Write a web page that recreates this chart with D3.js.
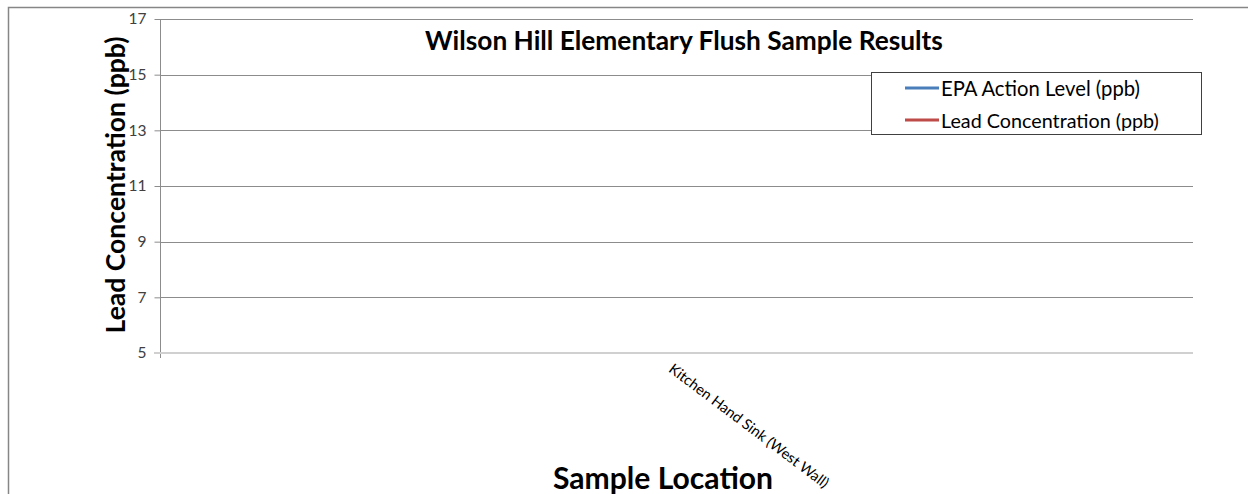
<!DOCTYPE html>
<html><head><meta charset="utf-8">
<script src="https://cdn.jsdelivr.net/npm/d3@7"></script>
<style>body{margin:0;background:#fff;} svg{display:block;font-family:Lato,"Open Sans",sans-serif;}</style>
</head><body>
<svg id="c" width="1248" height="494"></svg>
<script>
const categories = ["Kitchen Hand Sink (West Wall)"];
const epaActionLevel = [15];
const leadConcentration = [2];
const yTicks = [5, 7, 9, 11, 13, 15, 17];
const seriesNames = ["EPA Action Level (ppb)", "Lead Concentration (ppb)"];
const seriesColors = ["#4a7ebb", "#be4b48"];
const titleText = "Wilson Hill Elementary Flush Sample Results";
const xTitle = "Sample Location";
const yTitle = "Lead Concentration (ppb)";

const svg = d3.select("#c");
const W = 1248, H = 494;
const L = 160, R = 1193, T = 19, B = 353;

function fitText(sel, target) {
  const len = sel.node().getComputedTextLength();
  const fs = parseFloat(sel.attr("font-size"));
  sel.attr("font-size", fs * target / len);
}

// outer frame
svg.append("rect").attr("x", 8.5).attr("y", 7.5).attr("width", W + 20).attr("height", H + 20)
  .attr("fill", "none").attr("stroke", "#868686").attr("stroke-width", 1.5);

const x = d3.scaleBand().domain(categories).range([L, R]);
const y = d3.scaleLinear().domain([5, 17]).range([B, T]);

// gridlines
svg.append("g").selectAll("line").data(yTicks.filter(d => d !== 5)).join("line")
  .attr("x1", L).attr("x2", R).attr("y1", d => Math.round(y(d)) + 0.5).attr("y2", d => Math.round(y(d)) + 0.5)
  .attr("stroke", "#8c8c8c").attr("stroke-width", 1);

// y axis
const ya = svg.append("g").attr("transform", `translate(${L + 0.5},0)`)
  .call(d3.axisLeft(y).tickValues(yTicks).tickSize(6).tickPadding(8).tickFormat(d3.format("d")));
ya.select(".domain").attr("stroke", "#8c8c8c").attr("d", `M0,${T}V${B + 5}`);
ya.selectAll(".tick line").attr("stroke", "#8c8c8c");
ya.selectAll(".tick text").attr("font-size", 15.5).attr("fill", "#404040").attr("font-family", "Lato, 'Open Sans', sans-serif");

// baseline at 5 (x axis)
svg.append("line").attr("x1", L - 6).attr("x2", R).attr("y1", y(5)).attr("y2", y(5))
  .attr("stroke", "#d0d0d0").attr("stroke-width", 2);

// series lines (single point -> no visible line)
const line = d3.line().x((d, i) => x(categories[i]) + x.bandwidth() / 2).y(d => y(d));
[epaActionLevel, leadConcentration].forEach((s, i) => {
  svg.append("path").attr("d", line(s)).attr("fill", "none").attr("stroke", seriesColors[i]).attr("stroke-width", 2.5);
});

// category labels
const cl = svg.append("g").selectAll("text").data(categories).join("text")
  .attr("transform", d => `translate(${x(d) + x.bandwidth() / 2 - 2},${362}) rotate(37)`)
  .attr("font-size", 14).attr("fill", "#000").attr("text-anchor", "start")
  .attr("dominant-baseline", "hanging").text(d => d);
fitText(cl, 196);

// title
const t = svg.append("text").attr("x", 684).attr("y", 50).attr("text-anchor", "middle")
  .attr("font-size", 22).attr("font-weight", "bold").attr("fill", "#000").text(titleText);
fitText(t, 518);

const xt = svg.append("text").attr("x", 663).attr("y", 489).attr("text-anchor", "middle")
  .attr("font-size", 24).attr("font-weight", "bold").attr("fill", "#000").text(xTitle);
fitText(xt, 220);

const yt = svg.append("text").attr("transform", `translate(125,185) rotate(-90)`).attr("text-anchor", "middle")
  .attr("font-size", 24).attr("font-weight", "bold").attr("fill", "#000").text(yTitle);
fitText(yt, 297);

// legend
const lg = svg.append("g");
lg.append("rect").attr("x", 871.5).attr("y", 72.5).attr("width", 330).attr("height", 62)
  .attr("fill", "#fff").attr("stroke", "#404040").attr("stroke-width", 1);
seriesNames.forEach((n, i) => {
  const cy = 88 + i * 32;
  lg.append("line").attr("x1", 905).attr("x2", 939).attr("y1", cy).attr("y2", cy)
    .attr("stroke", seriesColors[i]).attr("stroke-width", 3);
  const tx = lg.append("text").attr("x", 941).attr("y", cy).attr("dominant-baseline", "central")
    .attr("font-size", 17).attr("fill", "#000").text(n);
  if (i === 0) fitText(tx, 199);
  else fitText(tx, 218);
});
</script>
</body></html>
